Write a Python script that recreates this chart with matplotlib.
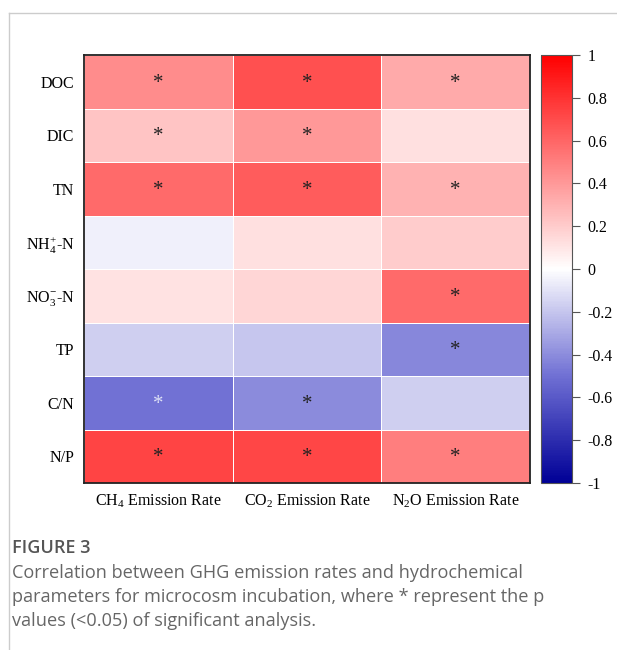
import numpy as np
import matplotlib
matplotlib.use("Agg")
import matplotlib.pyplot as plt
from matplotlib.colors import LinearSegmentedColormap
from matplotlib.lines import Line2D

plt.rcParams["font.family"] = ["Liberation Serif", "DejaVu Serif"]
plt.rcParams["mathtext.fontset"] = "custom"
plt.rcParams["mathtext.rm"] = "Liberation Serif"

rows = ["DOC", "DIC", "TN", "NH$_\\mathregular{4}^\\mathregular{+}$-N",
        "NO$_\\mathregular{3}^\\mathregular{-}$-N", "TP", "C/N", "N/P"]
cols = ["CH$_\\mathregular{4}$ Emission Rate", "CO$_\\mathregular{2}$ Emission Rate",
        "N$_\\mathregular{2}$O Emission Rate"]

ch4 = [0.45, 0.23, 0.58, -0.05, 0.11, -0.17, -0.50, 0.73]
co2 = [0.68, 0.40, 0.64, 0.12, 0.16, -0.20, -0.40, 0.72]
n2o = [0.33, 0.12, 0.30, 0.20, 0.58, -0.42, -0.17, 0.50]

sig_ch4 = [1, 1, 1, 0, 0, 0, 1, 1]
sig_co2 = [1, 1, 1, 0, 0, 0, 1, 1]
sig_n2o = [1, 0, 1, 0, 1, 1, 0, 1]

data = np.array([ch4, co2, n2o]).T
sig = np.array([sig_ch4, sig_co2, sig_n2o]).T

cmap = LinearSegmentedColormap.from_list(
    "rb", [(0.0, "#000096"), (0.25, "#7070d4"), (0.5, "#ffffff"),
           (0.75, "#ff7f7f"), (1.0, "#ff0000")])

fig = plt.figure(figsize=(6.17, 6.5), dpi=100)

# page frame lines
fig.add_artist(Line2D([9 / 617, 9 / 617], [0, 1 - 13 / 650], color="#cccccc", lw=1))
fig.add_artist(Line2D([9 / 617, 1], [1 - 13 / 650, 1 - 13 / 650], color="#cccccc", lw=1))

ax = fig.add_axes([84 / 617, 1 - 483 / 650, 446 / 617, 428 / 650])
mesh = ax.pcolormesh(data, cmap=cmap, vmin=-1, vmax=1, edgecolors="white", linewidth=0.6)
ax.set_xlim(0, 3)
ax.set_ylim(8, 0)
ax.set_xticks(np.arange(3) + 0.5)
ax.set_xticklabels(cols, fontsize=11.5)
ax.set_yticks(np.arange(8) + 0.5)
ax.set_yticklabels(rows, fontsize=11.5)
ax.tick_params(length=0, pad=7)
for s in ax.spines.values():
    s.set_linewidth(1.3)
    s.set_color("#222222")

for i in range(8):
    for j in range(3):
        if sig[i, j]:
            c = "#dde0f5" if data[i, j] < -0.45 else "#222222"
            ax.text(j + 0.5, i + 0.53, "*", ha="center", va="center", fontsize=15, color=c)

cax = fig.add_axes([541 / 617, 1 - 483 / 650, 31 / 617, 428 / 650])
cb = fig.colorbar(mesh, cax=cax)
cb.set_ticks([1, 0.8, 0.6, 0.4, 0.2, 0, -0.2, -0.4, -0.6, -0.8, -1])
cb.set_ticklabels(["1", "0.8", "0.6", "0.4", "0.2", "0", "-0.2", "-0.4", "-0.6", "-0.8", "-1"])
cb.ax.tick_params(labelsize=11.5, length=6, width=0.8, color="#555555", pad=5)
cb.outline.set_edgecolor("#555555")
cb.outline.set_linewidth(0.8)

fig.text(12 / 617, 1 - 548 / 650, "FIGURE 3", fontsize=13, color="#555555",
         family="Open Sans", weight="semibold", va="center")
caption = ("Correlation between GHG emission rates and hydrochemical\n"
           "parameters for microcosm incubation, where * represent the p\n"
           "values (<0.05) of significant analysis.")
fig.text(12 / 617, 1 - 564 / 650, caption, fontsize=13.1, color="#666666",
         family="Open Sans", va="top", linespacing=1.42)

fig.savefig("out.png", dpi=100)
